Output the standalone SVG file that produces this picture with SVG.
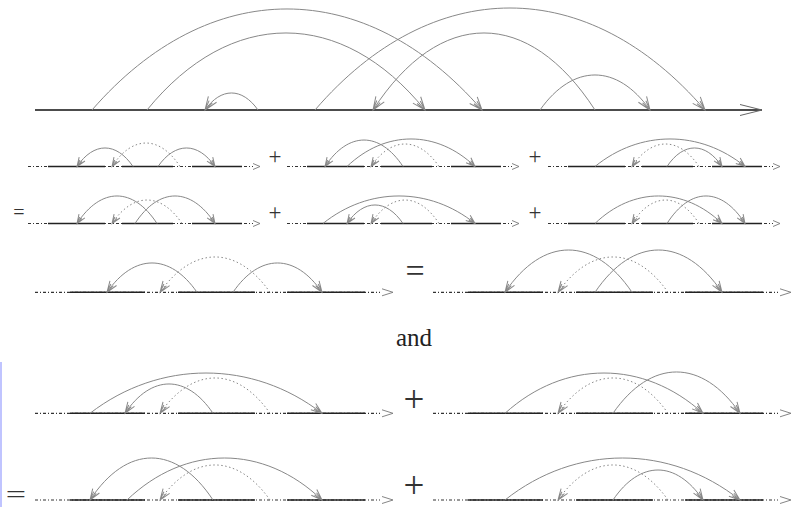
<svg xmlns="http://www.w3.org/2000/svg" xmlns:xlink="http://www.w3.org/1999/xlink" width="799" height="507" viewBox="0 0 799 507">
<style>
.arc{fill:none;stroke:#888;stroke-width:1}
.dot{fill:none;stroke:#888;stroke-width:1;stroke-dasharray:1.5 2.5}
.sa{marker-end:url(#as)}
.ba{marker-end:url(#ab)}
.ta{marker-end:url(#at)}
.solid{stroke:#222;stroke-width:1.6}
.dd{stroke:#333;stroke-width:1.2;stroke-dasharray:3 2 1 2}
.tip{fill:none;stroke:#777;stroke-width:0.9}
.sym{font-family:"Liberation Serif",serif;fill:#333;text-anchor:middle}
</style>
<defs>
<marker id="at" markerUnits="userSpaceOnUse" viewBox="0 0 16 12" markerWidth="16" markerHeight="12" refX="14" refY="6" orient="auto"><path d="M1,1 L14,6 L1,11 M4,4 L14,6 L4,8" fill="none" stroke="#888" stroke-width="1"/></marker>
<marker id="ab" markerUnits="userSpaceOnUse" viewBox="0 0 14 10" markerWidth="14" markerHeight="10" refX="12" refY="5" orient="auto"><path d="M1,1 L12,5 L1,9 M3,3.5 L12,5 L3,6.5" fill="none" stroke="#888" stroke-width="1"/></marker>
<marker id="as" markerUnits="userSpaceOnUse" viewBox="0 0 12 9" markerWidth="12" markerHeight="9" refX="10" refY="4.5" orient="auto"><path d="M1,1 L10,4.5 L1,8 M3,3.3 L10,4.5 L3,5.7" fill="none" stroke="#888" stroke-width="1"/></marker>
<g id="sbase">
<line x1="28" y1="0" x2="253" y2="0" class="dd"/>
<line x1="48" y1="0" x2="105" y2="0" class="solid"/>
<line x1="122" y1="0" x2="173" y2="0" class="solid"/>
<line x1="192" y1="0" x2="242" y2="0" class="solid"/>
<path d="M253,-3 L260,0 L253,3" class="tip"/>
</g>
<g id="bbase">
<line x1="35" y1="0" x2="380" y2="0" class="dd"/>
<line x1="70" y1="0" x2="145" y2="0" class="solid"/>
<line x1="178" y1="0" x2="255" y2="0" class="solid"/>
<line x1="287" y1="0" x2="365" y2="0" class="solid"/>
<path d="M382,-3.5 L393,0 L382,3.5" class="tip"/>
</g>
</defs>
<rect width="799" height="507" fill="#fff"/>
<rect x="0" y="362" width="2" height="145" fill="#c0c4ff"/>

<g id="top">
<line x1="35" y1="110" x2="762" y2="110" stroke="#111" stroke-width="1.6"/>
<path d="M740,104.5 L762,110 L740,115.5" fill="none" stroke="#666" stroke-width="1"/>
</g>
<g id="top-connectors">
<path class="arc ta" d="M92 110 C209 -24.7 365 -24.7 482 110"/>
<path class="arc ta" d="M147 110 C230.4 7.3 341.6 7.3 425 110"/>
<path class="arc ta" d="M258 110 C242.1 87.3 220.9 87.3 205 110"/>
<path class="arc ta" d="M315 110 C432 -26 588 -26 705 110"/>
<path class="arc ta" d="M595 110 C528.4 7.3 439.6 7.3 373 110"/>
<path class="arc ta" d="M540 110 C573 63.3 617 63.3 650 110"/>
</g>

<g id="row1">
<use xlink:href="#sbase" transform="translate(0,166.5)"/>
<use xlink:href="#sbase" transform="translate(259,166.5)"/>
<use xlink:href="#sbase" transform="translate(520,166.5)"/>
<text class="sym" x="275" y="164" font-size="23">+</text>
<text class="sym" x="535" y="164" font-size="23">+</text>
</g>
<g id="row1-connectors">
<path class="arc sa" d="M133 166.5 C116.2 141.8 93.8 141.8 77 166.5"/>
<path class="dot sa" d="M180 166.5 C159.6 135.2 132.4 135.2 112 166.5"/>
<path class="arc sa" d="M158 166.5 C175.1 141.8 197.9 141.8 215 166.5"/>
<path class="arc sa" d="M403 166.5 C379.6 131.2 348.4 131.2 325 166.5"/>
<path class="arc sa" d="M347 166.5 C385.4 129.8 436.6 129.8 475 166.5"/>
<path class="dot sa" d="M439 166.5 C418.6 136.5 391.4 136.5 371 166.5"/>
<path class="arc sa" d="M595 166.5 C640 129.8 700 129.8 745 166.5"/>
<path class="dot sa" d="M699 166.5 C678.9 136.5 652.1 136.5 632 166.5"/>
<path class="arc sa" d="M667 166.5 C683.5 141.8 705.5 141.8 722 166.5"/>
</g>

<g id="row2">
<use xlink:href="#sbase" transform="translate(0,223.5)"/>
<use xlink:href="#sbase" transform="translate(259,223.5)"/>
<use xlink:href="#sbase" transform="translate(520,223.5)"/>
<text class="sym" x="19" y="218.5" font-size="20">=</text>
<text class="sym" x="275" y="220" font-size="23">+</text>
<text class="sym" x="535" y="220" font-size="23">+</text>
</g>
<g id="row2-connectors">
<path class="arc sa" d="M157 223.5 C133 186.8 101 186.8 77 223.5"/>
<path class="dot sa" d="M182 223.5 C161 192.2 133 192.2 112 223.5"/>
<path class="arc sa" d="M135 223.5 C159 186.8 191 186.8 215 223.5"/>
<path class="arc sa" d="M323 223.5 C368.6 186.8 429.4 186.8 475 223.5"/>
<path class="arc sa" d="M403 223.5 C386.2 198.8 363.8 198.8 347 223.5"/>
<path class="dot sa" d="M439 223.5 C418.6 192.2 391.4 192.2 371 223.5"/>
<path class="arc sa" d="M595 223.5 C633.1 186.8 683.9 186.8 722 223.5"/>
<path class="dot sa" d="M699 223.5 C678.9 192.2 652.1 192.2 632 223.5"/>
<path class="arc sa" d="M667 223.5 C690.4 186.8 721.6 186.8 745 223.5"/>
</g>

<g id="row3">
<use xlink:href="#bbase" transform="translate(0,292.3)"/>
<use xlink:href="#bbase" transform="translate(398,292.3)"/>
<text class="sym" x="415" y="282" font-size="34">=</text>
</g>
<g id="row3-connectors">
<path class="arc ba" d="M197 292.3 C170 253.2 134 253.2 107 292.3"/>
<path class="dot ba" d="M270 292.3 C237 245.2 193 245.2 160 292.3"/>
<path class="arc ba" d="M233 292.3 C259.7 253.2 295.3 253.2 322 292.3"/>
<path class="arc ba" d="M632 292.3 C593.9 235.9 543.1 235.9 505 292.3"/>
<path class="dot ba" d="M668 292.3 C635 245.2 591 245.2 558 292.3"/>
<path class="arc ba" d="M595 292.3 C633.1 235.9 683.9 235.9 722 292.3"/>
</g>

<text id="and" x="414" y="346" font-family="Liberation Serif, serif" font-size="25" fill="#222" text-anchor="middle">and</text>

<g id="row4">
<use xlink:href="#bbase" transform="translate(0,413.3)"/>
<use xlink:href="#bbase" transform="translate(398,413.3)"/>
<text class="sym" x="414" y="411.5" font-size="37">+</text>
</g>
<g id="row4-connectors">
<path class="arc ba" d="M90 413.3 C159.6 359.6 252.4 359.6 322 413.3"/>
<path class="arc ba" d="M213 413.3 C186.6 374.2 151.4 374.2 125 413.3"/>
<path class="dot ba" d="M270 413.3 C237 366.2 193 366.2 160 413.3"/>
<path class="arc ba" d="M505 413.3 C564.4 359.6 643.6 359.6 703 413.3"/>
<path class="dot ba" d="M668 413.3 C635 366.2 591 366.2 558 413.3"/>
<path class="arc ba" d="M613 413.3 C651.1 358.2 701.9 358.2 740 413.3"/>
</g>

<g id="row5">
<use xlink:href="#bbase" transform="translate(0,500)"/>
<use xlink:href="#bbase" transform="translate(398,500)"/>
<text class="sym" transform="translate(16,502) scale(1.5,1)" x="0" y="0" font-size="24">=</text>
<text class="sym" x="414" y="497.5" font-size="37">+</text>
</g>
<g id="row5-connectors">
<path class="arc ba" d="M213 500 C176.1 444 126.9 444 90 500"/>
<path class="arc ba" d="M127 500 C185.5 444 263.5 444 322 500"/>
<path class="dot ba" d="M270 500 C237 453.3 193 453.3 160 500"/>
<path class="arc ba" d="M505 500 C575.5 444 669.5 444 740 500"/>
<path class="dot ba" d="M668 500 C635 453.3 591 453.3 558 500"/>
<path class="arc ba" d="M613 500 C640 460 676 460 703 500"/>
</g>
</svg>
